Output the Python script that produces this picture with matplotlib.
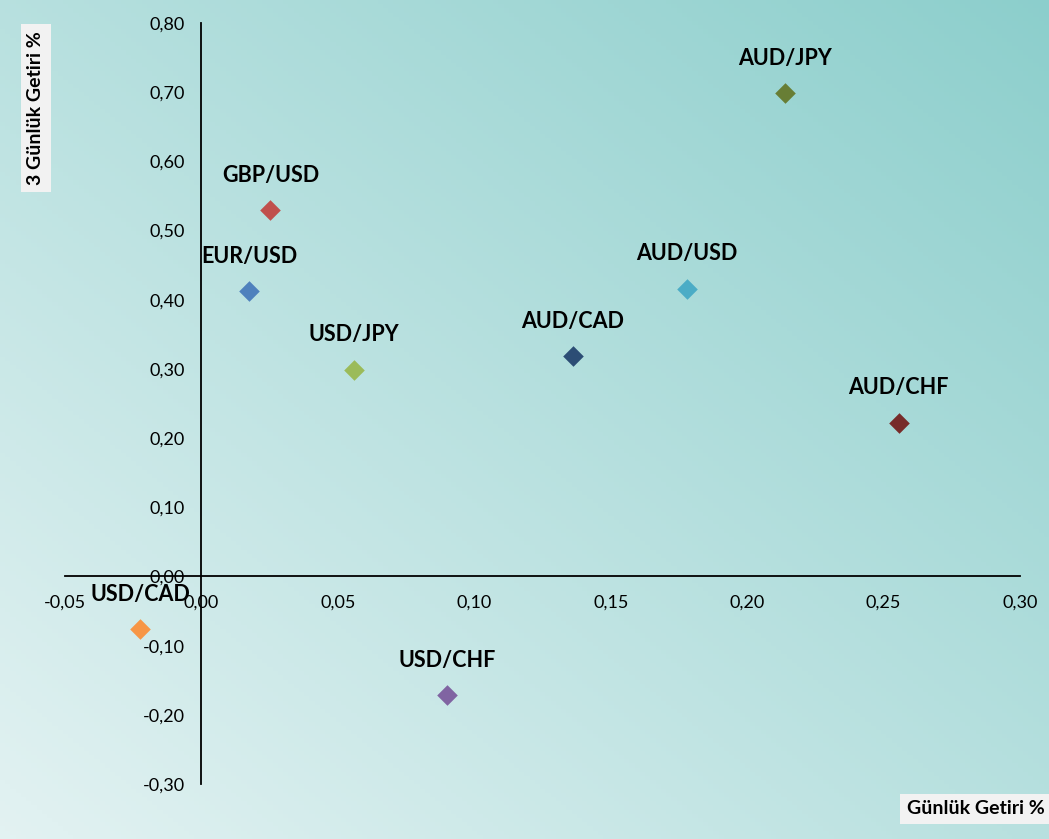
import matplotlib
matplotlib.use("Agg")
import matplotlib.pyplot as plt
import numpy as np
from matplotlib.ticker import FuncFormatter

plt.rcParams['font.family'] = ['Lato', 'DejaVu Sans']

# paires et valeurs (getiri %)
pairs = ["EUR/USD", "GBP/USD", "USD/JPY", "AUD/CAD", "AUD/USD",
         "AUD/JPY", "AUD/CHF", "USD/CAD", "USD/CHF"]
gunluk = [0.0176, 0.0253, 0.056, 0.136, 0.178, 0.214, 0.2555, -0.0224, 0.090]
uc_gunluk = [0.412, 0.529, 0.299, 0.319, 0.416, 0.699, 0.2225, -0.0766, -0.172]
colors = ["#4F81BD", "#C0504D", "#9BBB59", "#2C4D75", "#4BACC6",
          "#687E35", "#772C2A", "#F79646", "#8064A2"]

xticks = [-0.05, 0.0, 0.05, 0.10, 0.15, 0.20, 0.25, 0.30]
yticks = [-0.30, -0.20, -0.10, 0.0, 0.10, 0.20, 0.30, 0.40, 0.50, 0.60, 0.70, 0.80]

fig = plt.figure(figsize=(10.49, 8.39), dpi=100)

# fond en degrade (coin haut-droit plus fonce)
bg = fig.add_axes([0, 0, 1, 1], zorder=0)
bg.axis("off")
yy, xx = np.mgrid[0:1:200j, 0:1:200j]
t = (xx + (1 - yy)) / 2.0
c0 = np.array([0.89, 0.95, 0.95])
c1 = np.array([0.55, 0.81, 0.80])
img = c0[None, None, :] * (1 - t[..., None]) + c1[None, None, :] * t[..., None]
bg.imshow(img, extent=[0, 1, 0, 1], aspect="auto", origin="upper")
bg.set_xlim(0, 1)
bg.set_ylim(0, 1)

ax = fig.add_axes([65 / 1049, 1 - 784 / 839, (1020 - 65) / 1049, (784 - 23) / 839], zorder=1)
ax.patch.set_alpha(0)

for x, y, c, name in zip(gunluk, uc_gunluk, colors, pairs):
    ax.scatter(x, y, marker="D", s=110, color=c, zorder=3, linewidths=0)
    ax.annotate(name, (x, y), xytext=(0, 25), textcoords="offset points",
                ha="center", va="center", fontsize=15.5, fontweight="bold", color="black")

ax.set_xlim(-0.05, 0.30)
ax.set_ylim(-0.30, 0.80)
ax.set_xticks(xticks)
ax.set_yticks(yticks)
fmt = FuncFormatter(lambda v, p: f"{v:.2f}".replace(".", ",").replace("-0,00", "0,00"))
ax.xaxis.set_major_formatter(fmt)
ax.yaxis.set_major_formatter(fmt)

ax.spines["left"].set_position(("data", 0))
ax.spines["bottom"].set_position(("data", 0))
ax.spines["top"].set_visible(False)
ax.spines["right"].set_visible(False)
for s in ("left", "bottom"):
    ax.spines[s].set_linewidth(1.3)
ax.tick_params(axis="both", length=0, labelsize=13, colors="black")
ax.tick_params(axis="x", pad=13)
ax.tick_params(axis="y", pad=12)

fig.text(36 / 1049, 1 - 108 / 839, "3 Günlük Getiri %", rotation=90, ha="center", va="center",
         fontsize=14, fontweight="bold",
         bbox=dict(boxstyle="square,pad=0.35", facecolor="#F2F2F2", edgecolor="none"))
fig.text(976 / 1049, 1 - 809 / 839, "Günlük Getiri %", ha="center", va="center",
         fontsize=14, fontweight="bold",
         bbox=dict(boxstyle="square,pad=0.35", facecolor="#F2F2F2", edgecolor="none"))

fig.savefig("out.png", dpi=100)
